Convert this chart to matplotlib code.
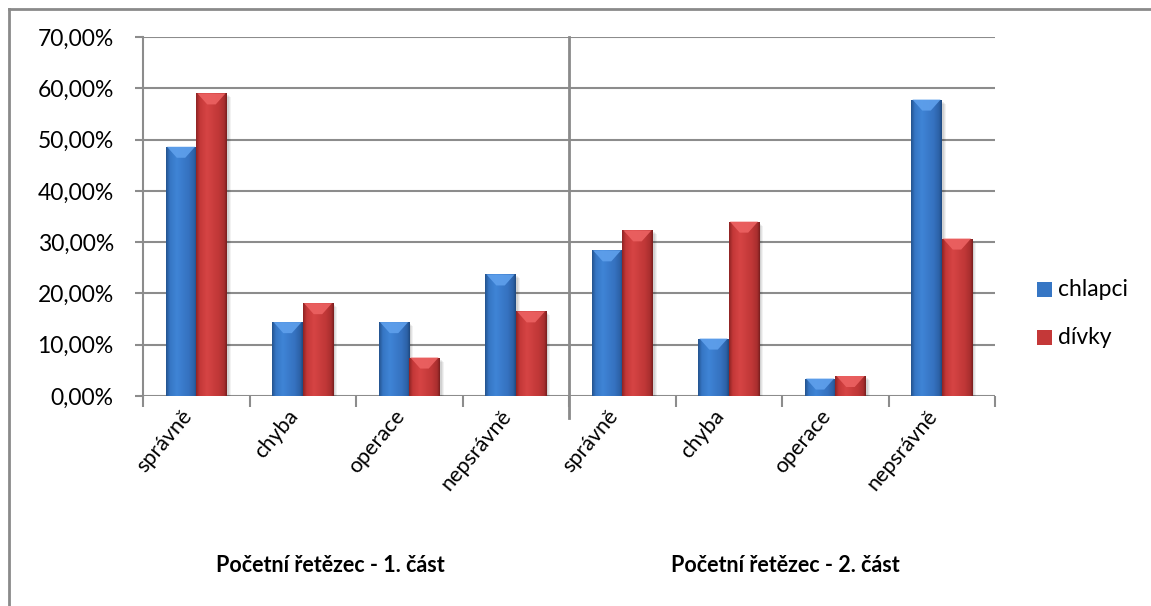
import numpy as np
import matplotlib
matplotlib.use("Agg")
import matplotlib.pyplot as plt
from matplotlib.colors import LinearSegmentedColormap
from matplotlib.patches import Polygon
from matplotlib.lines import Line2D
from matplotlib.ticker import FuncFormatter, FixedLocator
import matplotlib.transforms as mtransforms

plt.rcParams['font.family'] = ['Lato', 'DejaVu Sans']

# Data
categories = ["správně", "chyba", "operace", "nepsrávně",
              "správně", "chyba", "operace", "nepsrávně"]
groups = ["Početní řetězec - 1. část", "Početní řetězec - 2. část"]
chlapci = [0.486, 0.144, 0.144, 0.237, 0.284, 0.112, 0.034, 0.578]
divky = [0.590, 0.181, 0.075, 0.165, 0.323, 0.340, 0.039, 0.307]
series_names = ["chlapci", "dívky"]
y_ticks = [0.0, 0.1, 0.2, 0.3, 0.4, 0.5, 0.6, 0.7]

W, H = 1151, 606
fig = plt.figure(figsize=(W / 100, H / 100), dpi=100)
ax = fig.add_axes([143 / W, 1 - 396 / H, (995 - 143) / W, (396 - 37) / H])

grid_col = "#8c8c8c"
text_col = "#000000"
fs = 16.5

# Colour ramps across each bar (dark edge -> light body -> dark edge)
blue_cmap = LinearSegmentedColormap.from_list(
    "b", [(0, "#24548f"), (0.12, "#3676c4"), (0.35, "#3f84d6"),
          (0.75, "#3571bf"), (0.92, "#2c61a6"), (1, "#1f4a80")])
red_cmap = LinearSegmentedColormap.from_list(
    "r", [(0, "#8f2424"), (0.12, "#c43838"), (0.35, "#d64444"),
          (0.75, "#bf3737"), (0.92, "#a82e2e"), (1, "#7a1f1f")])
bevel_cols = ["#5fa0ec", "#ec6262"]
legend_cols = ["#3676c4", "#c43838"]

n = len(categories)
x = np.arange(n)
bw = 1 / 3.5

ax.set_xlim(-0.5, n - 0.5)
ax.set_ylim(0, 0.7)

bars_b = ax.bar(x - bw / 2, chlapci, bw, color="none", zorder=3, linewidth=0)
bars_r = ax.bar(x + bw / 2, divky, bw, color="none", zorder=3, linewidth=0)

fig.canvas.draw()
# pixel size in data units
inv = ax.transData.inverted()
p0 = inv.transform((0, 0))
p1 = inv.transform((1, 1))
dx_px = p1[0] - p0[0]
dy_px = p1[1] - p0[1]

grad = np.linspace(0, 1, 64).reshape(1, -1)
for bars, cmap, bev in [(bars_b, blue_cmap, bevel_cols[0]), (bars_r, red_cmap, bevel_cols[1])]:
    for p in bars:
        x0, w, h = p.get_x(), p.get_width(), p.get_height()
        # soft shadow
        for k, a in [(4, 0.05), (3, 0.06), (2, 0.07)]:
            ax.add_patch(plt.Rectangle((x0 + k * dx_px, 0), w, h - k * dy_px,
                                       color="black", alpha=a, zorder=2, lw=0))
        im = ax.imshow(grad, cmap=cmap, extent=[x0, x0 + w, 0, h],
                       aspect="auto", zorder=3, interpolation="bilinear")
        im.set_clip_path(p)
        bh = 11 * dy_px
        bd = 11 * dx_px
        ax.add_patch(Polygon([(x0 + 1.2 * dx_px, h), (x0 + w - 1.2 * dx_px, h),
                              (x0 + w / 2 + max(w / 2 - bd, 0.002), h - bh),
                              (x0 + w / 2 - max(w / 2 - bd, 0.002), h - bh)],
                             closed=True, facecolor=bev, edgecolor="none",
                             alpha=0.9, zorder=4))

ax.set_xlim(-0.5, n - 0.5)
ax.set_ylim(0, 0.7)

# Axes styling
for s in ["top", "right", "bottom"]:
    ax.spines[s].set_visible(False)
ax.spines["left"].set_color(grid_col)
ax.spines["left"].set_linewidth(1.5)
ax.set_yticks(y_ticks)
ax.yaxis.set_major_formatter(FuncFormatter(lambda v, _: f"{v * 100:.2f}%".replace(".", ",")))
ax.yaxis.grid(True, color=grid_col, linewidth=1.5, zorder=1)
ax.set_axisbelow(True)
ax.tick_params(axis="y", length=6, width=1.5, color=grid_col, labelsize=fs,
               labelcolor=text_col, pad=15)

ax.xaxis.set_major_locator(FixedLocator(np.arange(-0.5, n, 1.0)))
ax.xaxis.set_major_formatter(FuncFormatter(lambda v, _: ""))
ax.tick_params(axis="x", length=8, width=1.5, color=grid_col)

# Category labels
for i, c in enumerate(categories):
    off = mtransforms.offset_copy(ax.transData, fig=fig, x=-8, y=-17, units="dots")
    ax.text(i, 0, c, transform=off, rotation=50, rotation_mode="anchor",
            ha="right", va="center", fontsize=15.5, color=text_col)

# Divider between the two parts
ax.add_line(Line2D([3.5, 3.5], [1.0, -22 / 359],
                   transform=mtransforms.blended_transform_factory(ax.transData, ax.transAxes),
                   color="#8a8a8a", linewidth=2, clip_on=False, zorder=5))

# Group labels
for gx, g in zip([330, 785], groups):
    fig.text(gx / W, 1 - 566 / H, g, ha="center", va="center",
             fontsize=15.5, fontweight="bold", color=text_col)

# Legend
for k, (name, col) in enumerate(zip(series_names, legend_cols)):
    yy = 290 + 48 * k
    fig.patches.append(plt.Rectangle((1037 / W, 1 - (yy + 7) / H), 15 / W, 15 / H,
                                     transform=fig.transFigure, facecolor=col,
                                     edgecolor="none"))
    fig.text(1058 / W, 1 - yy / H, name, ha="left", va="center",
             fontsize=fs, color=text_col)

# Chart frame
fig.add_artist(Line2D([9 / W, 9 / W], [0, 1 - 9 / H], color="#8a8a8a", linewidth=2))
fig.add_artist(Line2D([9 / W, 1], [1 - 9 / H, 1 - 9 / H], color="#8a8a8a", linewidth=2))

fig.savefig("out.png", dpi=100)
